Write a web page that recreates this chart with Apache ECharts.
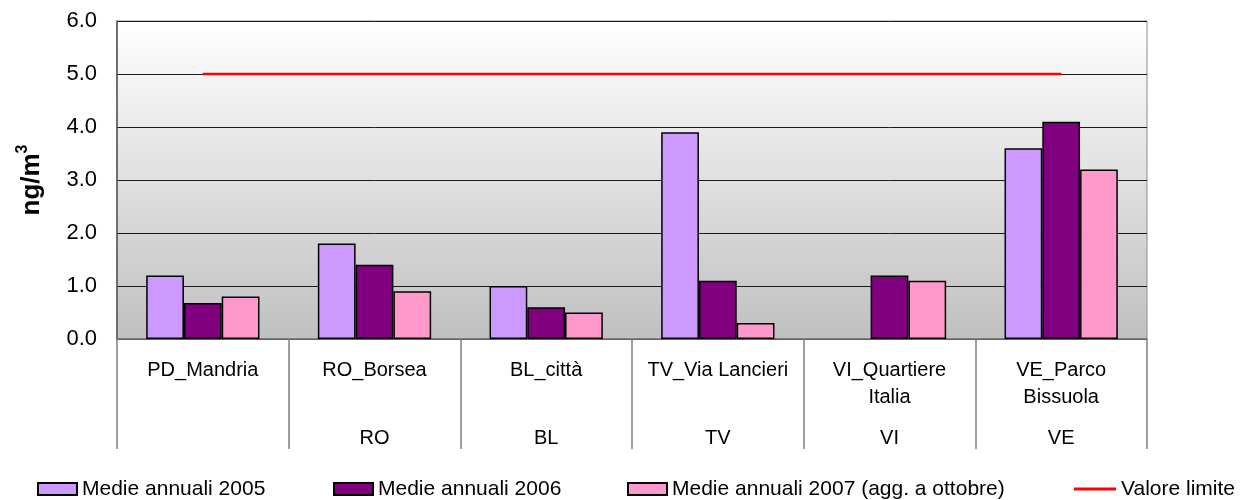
<!DOCTYPE html>
<html>
<head>
<meta charset="utf-8">
<script src="https://cdn.jsdelivr.net/npm/echarts@6/dist/echarts.min.js"></script>
<style>
html,body{margin:0;padding:0;background:#fff;}
#chart{width:1243px;height:500px;}
</style>
</head>
<body>
<div id="chart"></div>
<script>
var categories = ['PD_Mandria', 'RO_Borsea', 'BL_città', 'TV_Via Lancieri', 'VI_Quartiere\nItalia', 'VE_Parco\nBissuola'];
var provinces = ['', 'RO', 'BL', 'TV', 'VI', 'VE'];
var medie2005 = [1.2, 1.8, 1.0, 3.9, null, 3.6];
var medie2006 = [0.68, 1.4, 0.6, 1.1, 1.2, 4.1];
var medie2007 = [0.8, 0.9, 0.5, 0.3, 1.1, 3.2];
var valoreLimite = [5, 5, 5, 5, 5, 5];
var seriesNames = ['Medie annuali 2005', 'Medie annuali 2006', 'Medie annuali 2007 (agg. a ottobre)', 'Valore limite'];
var yMin = 0, yMax = 6, yInterval = 1;

var FONT = '"Liberation Sans", Arial, sans-serif';
var chart = echarts.init(document.getElementById('chart'), null, {renderer: 'canvas'});

function barSeries(name, data, color) {
  return {
    name: name, type: 'bar', data: data,
    barGap: '0%', barCategoryGap: '34%',
    itemStyle: {color: color, borderColor: '#000', borderWidth: 1.5},
    emphasis: {disabled: true}
  };
}

function legendAt(name, left, extra) {
  var l = {
    data: [name], left: left, top: 478.5, orient: 'horizontal',
    itemWidth: 39, itemHeight: 12, icon: 'rect', padding: 0,
    textStyle: {fontFamily: FONT, fontSize: 21, color: '#000'},
    selectedMode: false
  };
  if (extra) for (var k in extra) l[k] = extra[k];
  return l;
}

var option = {
  animation: false,
  backgroundColor: '#fff',
  textStyle: {fontFamily: FONT},
  grid: {
    left: 117, right: 96, top: 21, bottom: 161,
    show: true, borderColor: '#8c8c8c', borderWidth: 1,
    backgroundColor: {type: 'linear', x: 0, y: 0, x2: 0, y2: 1,
      colorStops: [{offset: 0, color: '#ffffff'}, {offset: 1, color: '#c0c0c0'}]}
  },
  legend: [
    legendAt(seriesNames[0], 37),
    legendAt(seriesNames[1], 333),
    legendAt(seriesNames[2], 627),
    legendAt(seriesNames[3], 1074, {itemWidth: 42, itemHeight: 3, itemStyle: {color: '#ff0000', borderWidth: 0}})
  ],
  xAxis: [{
    type: 'category', data: categories, position: 'bottom',
    axisLine: {show: true, lineStyle: {color: '#777', width: 1.5}},
    axisTick: {show: true, interval: 0, length: 110, lineStyle: {color: '#808080', width: 1.5}},
    axisLabel: {interval: 0, margin: 18, fontSize: 20, lineHeight: 27, color: '#000', fontFamily: FONT, align: 'center'},
    splitLine: {show: false}
  }, {
    type: 'category', data: provinces, position: 'bottom',
    axisLine: {show: false}, axisTick: {show: false},
    axisLabel: {interval: 0, margin: 86, fontSize: 20, lineHeight: 27, color: '#000', fontFamily: FONT},
    splitLine: {show: false}
  }],
  yAxis: {
    type: 'value', min: yMin, max: yMax, interval: yInterval,
    name: '{a|ng/m}{b|3}', nameLocation: 'middle', nameGap: 72, nameRotate: 90,
    nameTextStyle: {fontSize: 26, fontWeight: 'bold', color: '#000', fontFamily: FONT,
      rich: {
        a: {fontSize: 26, fontWeight: 'bold', color: '#000', fontFamily: FONT, lineHeight: 30, verticalAlign: 'bottom'},
        b: {fontSize: 16, fontWeight: 'bold', color: '#000', fontFamily: FONT, lineHeight: 30, verticalAlign: 'top', padding: [0, 0, 12, 0]}
      }},
    axisLine: {show: true, lineStyle: {color: '#555', width: 1.5}},
    axisTick: {show: false},
    axisLabel: {margin: 20, fontSize: 22, color: '#000', fontFamily: FONT,
      formatter: function (v) { return v.toFixed(1); }},
    splitLine: {show: true, lineStyle: {color: '#1a1a1a', width: 1}}
  },
  series: [
    barSeries(seriesNames[0], medie2005, '#cc99ff'),
    barSeries(seriesNames[1], medie2006, '#800080'),
    barSeries(seriesNames[2], medie2007, '#ff99cc'),
    {
      name: seriesNames[3], type: 'line', data: valoreLimite,
      showSymbol: false, symbol: 'none',
      lineStyle: {color: '#ff0000', width: 2.5},
      itemStyle: {color: '#ff0000'},
      emphasis: {disabled: true}, z: 5
    }
  ]
};
chart.setOption(option);
</script>
</body>
</html>
